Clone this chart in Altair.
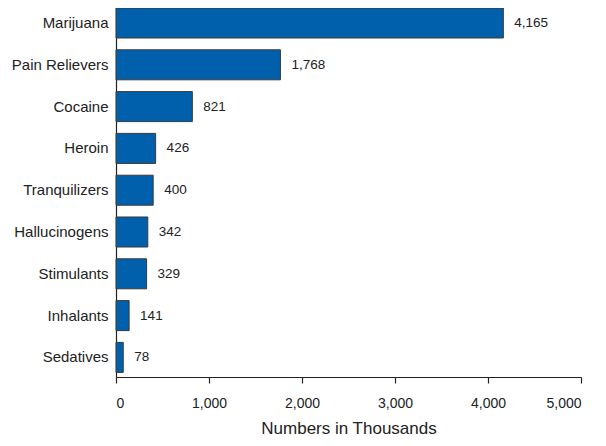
import altair as alt
import pandas as pd

drugs = ["Marijuana", "Pain Relievers", "Cocaine", "Heroin", "Tranquilizers",
         "Hallucinogens", "Stimulants", "Inhalants", "Sedatives"]
values = [4165, 1768, 821, 426, 400, 342, 329, 141, 78]
labels = ["4,165", "1,768", "821", "426", "400", "342", "329", "141", "78"]
ticks = [0, 1000, 2000, 3000, 4000, 5000]

df = pd.DataFrame({"drug": drugs, "value": values, "label": labels})

FONT = "Liberation Sans"

y_enc = alt.Y("drug:N", sort=drugs, title=None,
              scale=alt.Scale(paddingInner=0.282, paddingOuter=0.055, align=0),
              axis=alt.Axis(ticks=False, labelPadding=8, labelFontSize=15,
                            labelColor="#222222", labelFont=FONT,
                            domainColor="#222222", domainWidth=1.2))

x_enc = alt.X("value:Q", title="Numbers in Thousands",
              scale=alt.Scale(domain=[0, 5000], nice=False),
              axis=alt.Axis(values=ticks, format=",d",
                            grid=False, tickSize=6, tickColor="#222222",
                            domainColor="#222222", domainWidth=1.2, tickWidth=1.2,
                            labelPadding=13, labelFontSize=14, labelColor="#222222",
                            labelFont=FONT, titleFont=FONT, titleFontSize=17,
                            titleFontWeight="normal", titleColor="#222222",
                            titlePadding=10))

bars = alt.Chart(df).mark_bar(color="#0060AC", stroke="#3a3a3a", strokeWidth=1).encode(
    x=x_enc, y=y_enc)

text = alt.Chart(df).mark_text(align="left", baseline="middle", dx=11, fontSize=13.5,
                               font=FONT, color="#222222").encode(
    x=alt.X("value:Q"), y=alt.Y("drug:N", sort=drugs), text="label:N")

chart = alt.layer(bars, text).properties(
    width=465, height=369,
    padding={"left": 108, "top": 0, "right": 17, "bottom": 61},
    autosize=alt.AutoSizeParams(type="none"),
).configure_view(stroke=None)

chart.save("out.html", embed_options={"renderer": "svg", "actions": False})
